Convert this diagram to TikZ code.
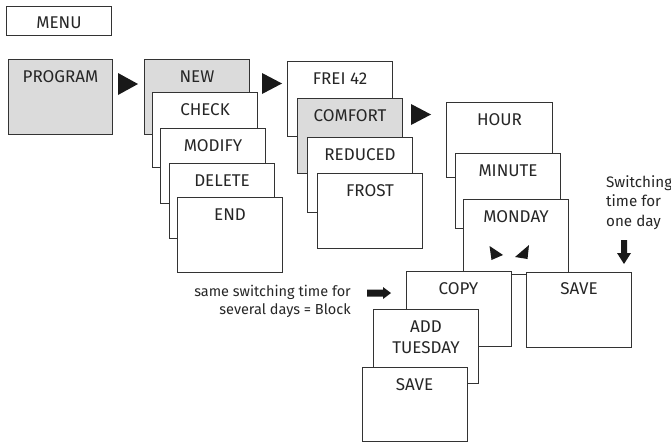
\documentclass[tikz,border=0pt]{standalone}
\usepackage{fontspec}
\setmainfont{Fira Sans}
\begin{document}
\begin{tikzpicture}[x=1pt,y=-1pt,
  panel/.style={draw=black!80, line width=1pt, fill=white, anchor=north west,
    minimum width=105pt, minimum height=75pt, inner sep=0pt},
  grey/.style={fill=black!14},
  lbl/.style={anchor=base, inner sep=0pt, font=\fontsize{17}{21}\selectfont, text=black!85, align=center},
  note/.style={inner sep=0pt, text=black!85},
  tri/.style={fill=black!90}]
\useasboundingbox (0,0) rectangle (671,442);

% MENU
\node[panel, minimum height=29pt] (menu) at (6,6) {};
\node[lbl] at ([yshift=-22pt]menu.north) {MENU};

% PROGRAM
\node[panel, grey, minimum width=104pt] (program) at (8,59) {};
\node[lbl] at ([yshift=-23pt]program.north) {PROGRAM};

% first column
\node[panel, grey] (new) at (144,59) {};
\node[lbl] at ([yshift=-23pt]new.north) {NEW};
\node[panel] (check) at (152,92) {};
\node[lbl] at ([yshift=-23pt]check.north) {CHECK};
\node[panel] (modify) at (160,128) {};
\node[lbl] at ([yshift=-23pt]modify.north) {MODIFY};
\node[panel] (delete) at (169,163) {};
\node[lbl] at ([yshift=-23pt]delete.north) {DELETE};
\node[panel] (end) at (177,197) {};
\node[lbl] at ([yshift=-23pt]end.north) {END};

% second column
\node[panel] (frei) at (287,61) {};
\node[lbl] at ([yshift=-23pt]frei.north) {FREI 42};
\node[panel, grey] (comfort) at (297,98) {};
\node[lbl] at ([yshift=-23pt]comfort.north) {COMFORT};
\node[panel] (reduced) at (307,137) {};
\node[lbl] at ([yshift=-23pt]reduced.north) {REDUCED};
\node[panel] (frost) at (317,173) {};
\node[lbl] at ([yshift=-23pt]frost.north) {FROST};

% third column
\node[panel, minimum width=106pt] (hour) at (446,102) {};
\node[lbl] at ([yshift=-23pt]hour.north) {HOUR};
\node[panel] (minute) at (455,153) {};
\node[lbl] at ([yshift=-23pt]minute.north) {MINUTE};
\node[panel] (monday) at (463,199) {};
\node[lbl] at ([yshift=-23pt]monday.north) {MONDAY};

% small triangles inside MONDAY
\fill[tri] (489.5,246) -- (491.5,260) -- (503,255) -- cycle;
\fill[tri] (529,245) -- (515,257) -- (527.5,259) -- cycle;

% lower boxes
\node[panel] (copy) at (405.5,271) {};
\node[lbl] at ([yshift=-23pt]copy.north) {COPY};
\node[panel, minimum height=74pt] (addtue) at (373,309) {};
\node[lbl] at ([yshift=-44pt]addtue.north) {ADD\\TUESDAY};
\node[panel, minimum height=74pt] (save) at (361.5,367) {};
\node[lbl] at ([yshift=-23pt]save.north) {SAVE};
\node[panel] (saveday) at (526,271.5) {};
\node[lbl] at ([yshift=-23pt]saveday.north) {SAVE};

% big triangle arrows between columns
\fill[tri] (118,73) -- (118,95) -- (138,84) -- cycle;
\fill[tri] (262,73) -- (262,94) -- (282,83.5) -- cycle;
\fill[tri] (411,104) -- (411,125) -- (431,114.5) -- cycle;

% annotations
\node[note, anchor=base west, align=left, font=\fontsize{15.2}{19.5}\selectfont] (oneday) at (606,226) {Switching\\time for\\one day};
\node[note, anchor=base east, align=right, font=\fontsize{14.5}{18}\selectfont] (block) at (351,314) {same switching time for\\several days = Block};

% block arrows
\fill[tri] (621,240) -- (627,240) -- (627,253) -- (631,253) -- (624,264) -- (617,253) -- (621,253) -- cycle;
\fill[tri] (367,289.5) -- (383,289.5) -- (383,287) -- (391,293) -- (383,299) -- (383,296.5) -- (367,296.5) -- cycle;
\end{tikzpicture}
\end{document}
